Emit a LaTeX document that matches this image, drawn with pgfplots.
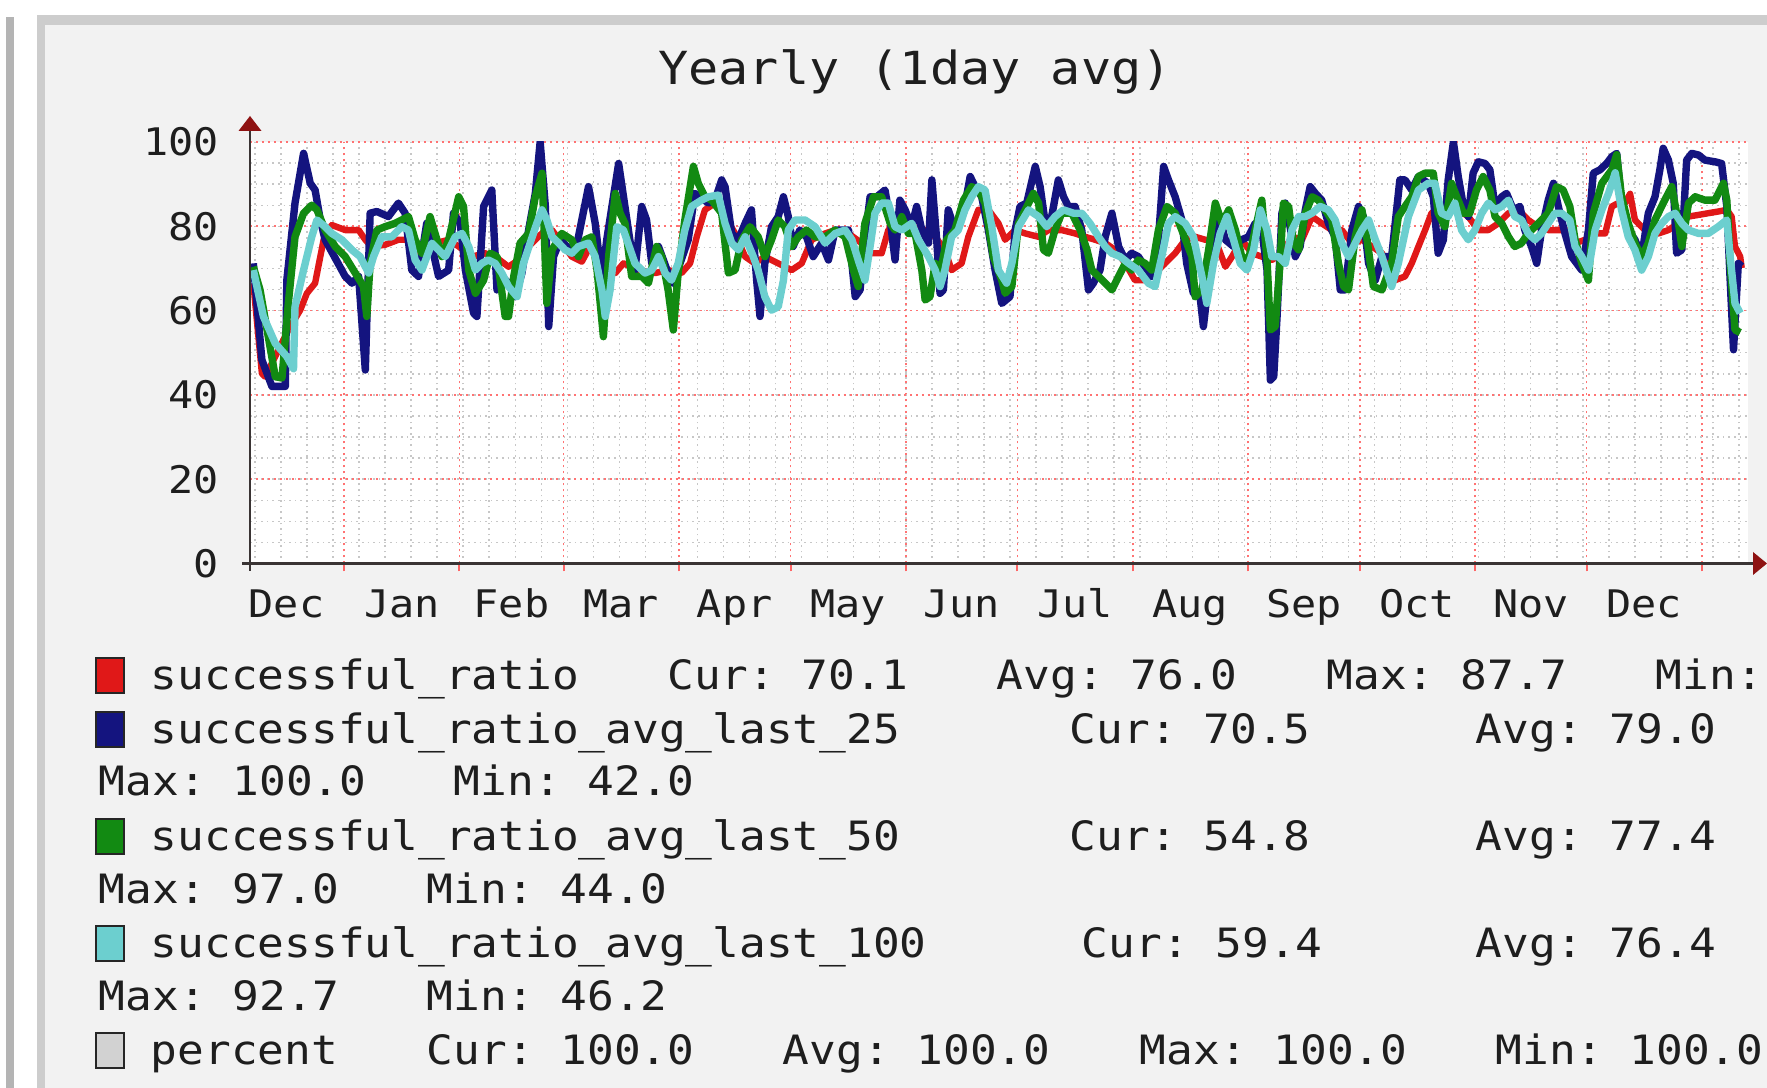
\documentclass[border=0pt]{standalone}
\usepackage{fontspec}
\setmainfont{DejaVu Sans Mono}[FakeStretch=1.1]
\usepackage{pgfplots}
\pgfplotsset{compat=1.18}
\definecolor{cred}{HTML}{E01818}
\definecolor{cblue}{HTML}{14147F}
\definecolor{cgreen}{HTML}{128A12}
\definecolor{ccyan}{HTML}{6CCFCF}
\definecolor{cgray}{HTML}{D2D2D2}
\definecolor{panel}{HTML}{F2F2F2}
\definecolor{framec}{HTML}{CDCDCD}
\definecolor{leftbar}{HTML}{B4B4B4}
\definecolor{txt}{HTML}{1E1E1E}
\definecolor{axcol}{HTML}{3A3434}
\definecolor{arrcol}{HTML}{8E1212}
\newcommand\titlefont{\fontsize{11.4}{13}\selectfont\frenchspacing}
\newcommand\legfont{\fontsize{10.1}{12}\selectfont\frenchspacing}
\newcommand\tickfont{\fontsize{9.5}{11}\selectfont}
\begin{document}
\frenchspacing
\begin{tikzpicture}
\useasboundingbox (0,0) rectangle (441.75pt,272pt);
\clip (0,0) rectangle (441.75pt,272pt);
\begin{scope}[x=0.25pt,y=0.25pt]
\fill[white] (0,0) rectangle (1767,1088);
\fill[leftbar] (5.6,0) rectangle (13.5,1071);
\fill[framec] (37,0) rectangle (1767,1073);
\fill[panel] (45,0) rectangle (1767,1063);
\fill[white] (250,524.5) rectangle (1748,946);
\node[font=\titlefont, text=txt] at (915,1016.5) {Yearly (1day avg)};
\end{scope}
\begin{axis}[
  at={(62.5pt,131.125pt)}, anchor=south west,
  scale only axis, width=374.5pt, height=105.375pt,
  xmin=-25.3, xmax=377.4, ymin=0, ymax=100,
  axis line style={draw=none},
  /pgf/number format/assume math mode=true,
  xtick={-31,0,31,59,90,120,151,181,212,243,273,304,334,365},
  xticklabels={},
  minor xtick={-24,-17,...,375},
  ytick={0,20,40,60,80,100},
  minor ytick={5,10,...,95},
  yticklabel={\pgfmathprintnumber{\tick}},
  yticklabel style={font=\tickfont, text=txt, anchor=east, inner sep=0pt, xshift=-5.6pt},
  extra x ticks={-15.5,15.5,45,74.5,105,135.5,166,196.5,227.5,258,288.5,319,349.5},
  extra x tick labels={Dec,Jan,Feb,Mar,Apr,May,Jun,Jul,Aug,Sep,Oct,Nov,Dec},
  extra x tick style={grid=none, major tick length=0pt,
     xticklabel style={font=\tickfont, text=txt, anchor=base, inner sep=0pt, yshift=-13.6pt}},
  tick align=outside, major tick length=2pt, minor tick length=0pt,
  xtick pos=bottom, ytick pos=left,
  xtick style={draw=red!60, line width=0.5pt},
  ytick style={draw=none},
  grid=both,
  major grid style={draw=red!55, line width=0.45pt, dash pattern=on 0.6pt off 0.9pt},
  minor grid style={draw=black!22, line width=0.35pt, dash pattern=on 0.4pt off 1pt},
]
\addplot[cred, line width=1.6pt, line join=round] coordinates {
(-24.4,66.5) (-22.1,45.1) (-21.2,44.3) (-15.0,55.4) (-11.8,60.1) (-10.0,64.1) (-7.8,66.5) (-6.4,72.8) (-5.5,76.8) (-3.3,80.3) (0.3,79.1) (3.9,79.1) (5.7,76.8) (7.4,75.2) (11.0,75.6) (14.6,76.8) (18.2,76.8) (20.4,73.6) (22.2,76.8)
(24.5,76.0) (28.1,76.8) (30.8,75.2) (34.4,72.8) (37.9,73.6) (40.6,72.8) (44.2,70.4) (46.9,72.0) (49.6,75.2) (51.4,76.8) (54.1,79.1) (55.9,79.1) (58.5,76.0) (61.2,72.8) (63.9,71.6) (66.6,76.0) (69.3,71.2) (72.9,68.9) (75.1,71.2)
(79.1,69.6) (83.6,68.9) (87.1,69.6) (90.7,68.9) (93.0,71.2) (94.8,77.5) (97.0,83.9) (99.7,85.5) (102.4,82.3) (105.1,78.3) (107.8,72.8) (110.4,71.2) (113.1,72.8) (116.7,71.2) (120.3,69.6) (123.0,71.2) (125.7,76.8)
(129.3,78.3) (132.0,79.1) (135.6,78.3) (139.1,76.0) (141.8,73.6) (144.5,73.6) (146.3,79.1) (149.0,81.5) (152.6,79.9) (156.2,79.1) (158.9,77.5) (161.5,74.4) (163.3,69.6) (166.0,71.2) (167.8,77.5) (170.5,83.9) (173.2,83.9) (175.9,80.7)
(177.7,76.8) (180.4,79.1) (183.1,78.3) (186.7,77.5) (189.3,79.1) (192.9,79.1) (196.5,78.3) (199.2,77.5) (201.9,76.8) (204.6,76.0) (207.3,74.4) (210.0,71.2) (212.6,67.2) (215.3,67.2) (218.0,68.9) (220.7,71.2) (223.4,73.6) (226.1,76.8)
(228.8,77.5) (231.5,76.8) (234.2,76.8) (236.9,70.4) (238.7,72.8) (241.3,76.8) (244.0,73.6) (246.7,72.8) (249.4,72.0) (252.1,73.6) (254.8,77.5) (257.5,76.8) (260.2,82.3) (262.8,80.7) (265.5,79.1) (268.2,79.1) (270.9,76.0) (273.6,76.8) (276.3,75.2) (279.0,73.6)
(282.5,67.2) (285.2,68.1) (287.0,71.2) (288.8,75.2) (290.6,79.1) (292.3,83.1) (294.1,83.9) (296.8,84.7) (299.5,83.9) (302.2,82.3) (304.9,79.1) (307.6,79.1) (310.3,80.7) (313.0,83.1) (315.6,83.9) (318.3,81.5) (321.0,79.9) (323.7,79.1) (326.4,79.1) (329.1,79.1)
(330.9,76.0) (333.6,76.8) (336.3,78.3) (339.0,78.3) (340.8,84.7) (342.5,85.5) (344.3,85.5) (345.7,87.7) (347.0,81.5) (348.8,79.9) (350.6,78.3) (353.3,78.3) (356.0,79.1) (358.7,80.7) (361.4,82.3) (364.1,82.7) (366.7,83.1) (369.4,83.5) (371.7,83.9) (373.0,82.3) (373.9,75.2) (375.3,72.8) (375.7,70.1)
};
\addplot[cblue, line width=1.85pt, line join=round] coordinates {
(-24.4,71.2) (-22.1,48.3) (-19.4,42.0) (-15.8,42.0) (-15.4,67.2) (-13.2,85.5) (-10.9,97.3) (-9.1,90.2) (-7.8,88.6) (-6.4,81.5) (-5.1,76.8) (0.3,68.1) (2.1,66.5) (3.9,68.1) (5.7,45.9) (7.0,83.1) (8.8,83.5) (11.9,82.3) (14.6,85.5) (16.4,83.1) (18.2,69.6) (20.0,68.1) (22.2,80.7)
(25.4,68.1) (28.1,69.6) (29.4,83.1) (31.2,80.7) (32.6,69.6) (34.8,59.4) (35.7,58.6) (37.5,84.7) (39.7,88.6) (41.1,64.9) (42.4,68.1) (44.2,66.5) (46.0,63.3) (47.8,68.9) (49.6,79.1) (51.4,87.8) (52.7,100.0) (54.1,84.7) (55.0,56.2) (56.3,72.8) (58.1,76.8) (59.9,75.2) (62.1,73.6) (63.9,81.5) (65.7,89.4) (67.5,80.7) (69.3,67.2) (70.6,76.8) (72.0,84.7) (73.8,94.9)
(76.8,76.8) (78.2,69.6) (80.0,84.7) (81.3,81.5) (82.7,71.2) (84.5,75.2) (87.1,68.9) (88.5,66.5) (90.3,71.2) (92.5,76.8) (94.3,87.8) (95.7,87.0) (97.9,85.5) (99.7,86.2) (101.5,91.0) (102.4,89.4) (104.2,78.3) (106.0,76.8) (107.8,80.7) (109.5,83.9) (110.9,67.2) (111.8,58.6) (113.1,71.2) (114.9,79.9) (116.7,82.3) (118.1,87.0) (119.4,82.3) (120.7,75.2) (122.5,79.1) (124.3,77.5) (126.1,72.8)
(128.4,76.0) (130.2,72.0) (132.0,79.1) (135.6,79.1) (137.4,63.3) (138.7,64.9) (140.0,76.8) (141.4,87.0) (143.2,87.0) (145.4,88.6) (146.8,81.5) (148.1,72.0) (149.4,86.2) (150.8,83.9) (152.6,79.9) (153.9,84.7) (155.3,79.1) (157.1,76.0) (158.0,91.0) (159.3,76.8) (160.2,64.1) (161.1,64.9) (162.4,83.9) (164.2,79.1) (166.5,83.1) (168.3,91.8) (169.6,89.4) (171.4,87.0) (173.2,79.1) (175.0,69.6) (176.8,61.7)
(179.0,63.3) (180.4,79.1) (181.7,84.7) (183.5,85.5) (185.8,94.2) (187.1,89.4) (188.5,80.7) (190.2,82.3) (192.0,91.0) (193.4,87.0) (194.7,84.7) (196.5,84.7) (198.3,79.1) (200.1,64.9) (201.4,66.5) (203.2,69.6) (204.6,77.5) (206.4,83.1) (208.2,75.2) (210.0,72.0) (211.7,73.6) (213.5,72.8) (215.3,70.4) (217.1,68.1) (218.9,76.8) (220.3,94.2) (221.6,91.0) (223.4,87.0) (225.2,81.5) (226.5,71.2) (228.3,64.1)
(230.1,63.3) (231.0,56.2) (232.4,67.2) (234.2,80.7) (235.5,81.5) (236.9,76.8) (239.1,75.2) (241.3,76.8) (243.1,77.5) (244.9,80.7) (246.7,79.1) (248.1,69.6) (249.0,43.5) (249.9,44.3) (250.8,58.6) (252.1,83.1) (253.0,85.5) (254.3,79.9) (255.7,72.8) (257.0,75.2) (258.4,83.9) (259.7,89.4) (261.1,87.8) (262.8,86.2) (264.6,80.7) (266.4,77.5) (267.8,64.9) (269.1,64.9) (270.9,79.1) (272.7,84.7) (274.0,82.3) (275.4,71.2) (277.2,67.2) (279.0,72.8)
(281.6,72.8) (283.8,91.0) (285.2,91.0) (287.0,88.6) (288.8,91.8) (291.4,90.2) (292.8,87.0) (294.1,73.6) (295.5,76.8) (296.8,91.0) (298.2,100.0) (299.5,91.8) (300.9,84.7) (302.2,82.3) (303.5,92.6) (304.9,95.3) (306.7,94.9) (308.0,93.4) (309.4,84.7) (311.2,87.0) (312.5,87.8) (314.3,83.9) (316.1,84.7) (317.4,79.1) (319.2,75.2) (320.6,71.2) (321.9,79.1) (323.7,86.2) (325.1,90.2) (326.4,84.7) (328.2,78.3) (330.0,72.8)
(332.7,69.6) (334.5,79.1) (335.8,92.6) (337.6,93.4) (339.4,94.9) (340.8,96.5) (342.1,97.3) (343.4,85.5) (345.2,79.1) (347.0,76.8) (348.8,72.8) (350.6,83.1) (352.4,87.0) (353.7,93.4) (354.6,98.5) (356.0,95.7) (357.3,90.2) (358.2,73.6) (359.6,74.4) (360.9,95.7) (362.3,97.3) (364.1,96.9) (365.8,95.7) (368.5,95.3) (370.3,94.9) (371.7,84.7) (372.6,67.2) (373.5,50.7) (374.8,71.2) (375.7,70.5)
};
\addplot[cgreen, line width=1.85pt, line join=round] coordinates {
(-24.4,70.4) (-22.6,64.9) (-18.5,44.3) (-16.7,44.0) (-15.0,61.7) (-13.2,77.5) (-10.9,83.1) (-8.7,85.0) (-7.3,83.9) (-5.1,79.1) (-2.4,75.2) (0.3,72.8) (3.0,68.9) (5.2,65.7) (6.1,58.6) (7.0,71.2) (8.8,79.1) (11.0,79.9) (13.7,80.7) (17.3,82.3) (19.1,76.8) (20.9,73.6) (23.1,82.3)
(26.3,72.8) (28.1,76.8) (30.8,87.0) (32.1,84.7) (33.5,69.6) (35.3,64.1) (37.5,67.2) (39.3,73.6) (41.1,72.8) (43.3,58.6) (44.2,58.6) (45.6,68.1) (47.3,76.0) (49.6,78.3) (51.4,87.0) (53.2,92.6) (54.5,61.7) (55.9,74.4) (58.5,78.3) (61.2,76.8) (63.0,72.8) (64.8,76.8) (66.6,77.5) (68.0,69.6) (69.7,53.8) (71.1,72.8) (72.9,87.8) (74.2,83.1)
(75.5,80.7) (77.3,68.1) (80.0,68.1) (81.8,66.5) (84.0,75.2) (85.4,72.8) (87.1,64.9) (88.5,55.4) (89.8,68.9) (91.6,81.5) (93.9,94.2) (95.2,90.2) (97.0,87.0) (98.8,86.2) (101.5,83.1) (103.3,68.9) (105.1,69.6) (106.9,76.8) (109.1,79.9) (111.3,77.5) (113.1,72.8) (114.9,76.8) (116.7,81.5) (118.5,79.9) (120.3,75.2) (122.1,77.5) (124.3,79.1)
(126.6,77.5) (129.3,77.5) (132.0,79.1) (134.7,77.5) (136.9,69.6) (138.2,65.7) (140.0,80.7) (142.3,87.0) (144.5,87.0) (146.8,80.7) (148.1,79.1) (149.9,82.3) (151.7,78.3) (153.5,78.3) (155.3,69.6) (156.2,62.5) (157.5,63.3) (158.9,71.2) (160.2,68.9) (162.0,76.8) (164.2,79.1) (166.5,86.2) (168.7,89.4) (170.5,88.6) (172.3,85.5) (174.5,72.8) (176.8,67.2)
(177.7,64.1) (179.5,65.7) (181.3,80.7) (183.1,83.9) (185.3,87.8) (186.7,85.5) (188.0,74.4) (189.3,73.6) (191.1,79.1) (192.9,83.1) (195.6,83.1) (197.9,79.1) (199.7,74.4) (201.0,69.6) (202.8,68.1) (204.6,66.5) (206.4,64.9) (208.2,68.1) (210.0,71.2) (211.7,69.6) (213.5,72.0) (215.3,71.2) (217.1,69.6) (218.9,79.1) (221.2,84.7) (223.4,83.1) (225.2,79.1) (227.9,72.8)
(228.8,63.3) (230.6,64.9) (232.4,74.4) (234.2,85.5) (236.0,80.7) (237.8,83.9) (239.6,79.1) (241.3,72.8) (243.1,72.0) (244.9,79.1) (246.7,86.2) (248.1,72.0) (249.0,55.4) (250.3,56.2) (251.6,71.2) (252.5,85.5) (253.9,84.7) (255.2,76.0) (256.6,74.4) (258.4,83.1) (260.2,87.0) (261.9,86.2) (263.7,83.9) (265.5,81.5) (267.3,71.2) (268.7,65.7) (270.0,64.9) (271.8,77.5) (273.6,83.9) (275.0,76.8) (276.7,65.7) (279.0,64.9)
(281.6,71.2) (283.4,82.3) (285.2,84.7) (287.0,87.0) (288.8,91.8) (290.6,92.6) (292.8,92.6) (294.1,83.1) (295.9,79.9) (297.7,90.2) (299.1,87.0) (300.9,83.1) (302.6,83.1) (304.4,88.6) (306.2,91.8) (308.0,88.6) (309.4,82.3) (311.2,80.7) (313.0,77.5) (314.7,75.2) (316.5,76.0) (318.3,78.3) (320.1,79.9) (321.9,81.5) (323.7,83.1) (325.9,89.4) (327.7,88.6) (329.5,84.7)
(330.9,76.8) (332.7,71.2) (334.5,67.2) (335.8,83.1) (338.1,90.2) (340.8,93.4) (342.1,97.0) (343.4,87.0) (345.2,80.7) (347.0,76.0) (348.8,72.8) (350.6,76.0) (352.4,81.5) (354.6,85.5) (356.9,89.4) (358.7,80.7) (359.6,75.2) (361.4,85.5) (363.2,87.0) (365.8,86.2) (368.5,86.2) (370.8,90.2) (371.7,86.2) (372.6,71.2) (373.9,55.4) (375.3,54.8)
};
\addplot[ccyan, line width=1.85pt, line join=round] coordinates {
(-24.4,69.6) (-21.7,58.6) (-18.5,52.2) (-15.4,49.1) (-13.6,46.2) (-13.2,60.9) (-10.9,69.6) (-8.7,77.5) (-7.3,81.5) (-5.1,79.9) (-3.3,78.3) (-0.6,76.8) (2.1,74.4) (4.3,72.8) (6.6,68.9) (7.9,72.8) (10.1,77.5) (12.8,77.5) (15.5,79.9) (17.3,79.1) (19.1,72.0) (20.9,69.6) (23.6,76.0)
(27.2,72.8) (29.9,77.5) (31.7,78.3) (33.5,75.2) (35.3,69.6) (37.0,71.2) (38.8,72.0) (40.6,71.2) (42.4,68.9) (44.2,65.7) (46.5,63.3) (48.2,71.2) (50.0,76.0) (51.8,80.7) (53.2,83.9) (54.5,81.5) (55.9,77.5) (57.7,76.0) (59.4,74.4) (61.2,73.6) (63.0,75.2) (65.7,76.0) (67.5,72.8) (69.3,64.9) (70.2,58.6) (71.5,64.9) (73.3,79.9) (75.1,79.1)
(78.2,71.2) (80.9,68.9) (82.7,69.6) (84.5,72.8) (86.3,68.9) (88.0,67.2) (89.8,71.2) (91.6,79.1) (93.4,84.7) (96.1,86.2) (97.9,87.0) (100.6,87.4) (102.4,80.7) (104.2,76.0) (106.0,74.4) (107.8,77.5) (110.0,72.8) (111.3,69.6) (113.1,63.3) (114.9,60.1) (116.7,60.9) (118.1,67.2) (119.4,79.1) (121.2,81.5) (123.9,81.5) (126.6,79.9)
(129.3,76.0) (132.0,78.3) (134.7,79.1) (136.5,76.8) (138.2,72.0) (140.0,67.2) (141.4,75.2) (142.7,83.1) (144.5,85.5) (146.3,85.5) (148.1,79.9) (149.9,79.1) (152.6,80.7) (154.4,76.8) (157.1,72.8) (158.9,69.6) (160.2,65.7) (161.5,69.6) (163.3,77.5) (165.1,79.1) (166.9,83.9) (168.7,87.0) (170.5,89.4) (172.3,88.6) (174.1,79.9) (175.9,69.6) (178.1,66.5)
(179.5,71.2) (181.3,79.9) (184.0,83.9) (186.7,82.3) (188.9,79.9) (191.1,82.3) (193.4,83.9) (196.1,83.1) (198.3,83.1) (200.5,80.7) (202.8,77.5) (204.6,75.2) (206.4,73.6) (208.6,72.8) (210.9,71.2) (213.5,69.6) (216.2,66.5) (218.0,65.7) (219.8,72.8) (221.6,80.7) (223.4,82.3) (226.1,80.7) (228.3,77.5)
(230.6,68.1) (231.9,61.7) (233.7,71.2) (235.5,78.3) (237.3,82.3) (239.1,76.8) (240.9,71.2) (242.7,69.6) (244.5,74.4) (246.3,83.9) (248.1,79.1) (249.4,72.8) (251.2,72.8) (253.0,71.2) (254.8,79.1) (256.6,82.3) (258.4,82.3) (260.2,83.1) (262.4,84.7) (264.6,83.9) (266.4,81.5) (268.2,76.0) (270.0,72.8) (271.8,76.0) (273.6,79.1) (275.4,81.5) (277.2,76.8) (279.0,72.8)
(281.6,65.7) (283.4,71.2) (286.1,82.3) (288.8,88.6) (291.4,90.2) (293.2,90.2) (295.0,83.1) (296.8,82.3) (298.6,85.5) (300.4,79.1) (302.2,76.8) (304.0,79.1) (305.8,83.1) (307.6,85.5) (309.4,83.9) (311.2,84.7) (313.0,86.2) (314.7,82.3) (316.5,81.5) (318.3,78.3) (320.1,76.8) (321.9,78.3) (323.7,80.7) (325.5,83.1) (327.3,83.1) (329.5,81.5)
(330.9,75.2) (332.7,72.8) (334.5,69.6) (336.3,79.1) (338.1,83.9) (339.9,87.8) (341.7,92.7) (343.4,83.9) (345.2,77.5) (347.0,74.4) (348.8,69.6) (350.6,72.8) (352.4,78.3) (354.2,80.7) (356.0,82.3) (357.8,83.1) (359.6,80.7) (361.4,79.1) (364.1,78.3) (366.7,78.3) (369.4,79.9) (371.7,81.5) (372.6,72.8) (373.9,61.7) (375.3,59.4)
};
\end{axis}
\begin{scope}[x=0.25pt,y=0.25pt]
\draw[axcol, line width=0.6pt] (242,524.5) -- (1753,524.5);
\fill[arrcol] (1753,536) -- (1767,524.5) -- (1753,513) -- cycle;
\draw[axcol, line width=0.6pt] (250,517) -- (250,958);
\fill[arrcol] (238.5,957) -- (250,972) -- (261.5,957) -- cycle;
\tikzset{lt/.style={anchor=base west, inner sep=0pt, font=\legfont, text=txt},
         sq/.style={draw=black!85, line width=0.5pt}}
\filldraw[sq, fill=cred] (96,395.4) rectangle (124,430.4);
\node[lt] at (150,398.4) {successful\_ratio};
\node[lt] at (667,398.4) {Cur: 70.1};
\node[lt] at (996,398.4) {Avg: 76.0};
\node[lt] at (1326,398.4) {Max: 87.7};
\node[lt] at (1655,398.4) {Min:};
\filldraw[sq, fill=cblue] (96,341.2) rectangle (124,376.2);
\node[lt] at (150,344.2) {successful\_ratio\_avg\_last\_25};
\node[lt] at (1069,344.2) {Cur: 70.5};
\node[lt] at (1475,344.2) {Avg: 79.0};
\node[lt] at (98,292.4) {Max: 100.0};
\node[lt] at (453,292.4) {Min: 42.0};
\filldraw[sq, fill=cgreen] (96,234.2) rectangle (124,269.2);
\node[lt] at (150,237.2) {successful\_ratio\_avg\_last\_50};
\node[lt] at (1069,237.2) {Cur: 54.8};
\node[lt] at (1475,237.2) {Avg: 77.4};
\node[lt] at (98,184.2) {Max: 97.0};
\node[lt] at (426,184.2) {Min: 44.0};
\filldraw[sq, fill=ccyan] (96,127.1) rectangle (124,162.1);
\node[lt] at (150,130.1) {successful\_ratio\_avg\_last\_100};
\node[lt] at (1081,130.1) {Cur: 59.4};
\node[lt] at (1475,130.1) {Avg: 76.4};
\node[lt] at (98,77.2) {Max: 92.7};
\node[lt] at (426,77.2) {Min: 46.2};
\filldraw[sq, fill=cgray] (96,20.1) rectangle (124,55.1);
\node[lt] at (150,23.1) {percent};
\node[lt] at (426,23.1) {Cur: 100.0};
\node[lt] at (782,23.1) {Avg: 100.0};
\node[lt] at (1139,23.1) {Max: 100.0};
\node[lt] at (1495,23.1) {Min: 100.0};
\end{scope}
\end{tikzpicture}
\end{document}
